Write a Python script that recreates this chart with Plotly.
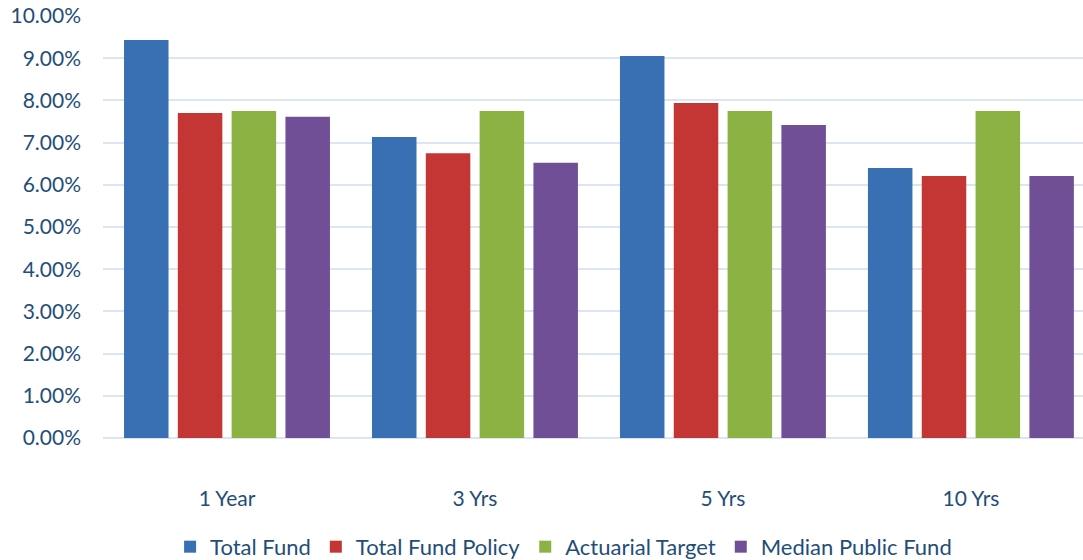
import plotly.graph_objects as go

categories = ["1 Year", "3 Yrs", "5 Yrs", "10 Yrs"]
total_fund = [9.43, 7.13, 9.05, 6.40]
total_fund_policy = [7.70, 6.75, 7.94, 6.21]
actuarial_target = [7.75, 7.75, 7.75, 7.75]
median_public_fund = [7.61, 6.52, 7.42, 6.21]
y_ticks = [0, 1, 2, 3, 4, 5, 6, 7, 8, 9, 10]

series = [
    ("Total Fund", total_fund, "#3970B4"),
    ("Total Fund Policy", total_fund_policy, "#C33634"),
    ("Actuarial Target", actuarial_target, "#8DB244"),
    ("Median Public Fund", median_public_fund, "#704F97"),
]

text_color = "#1F4E79"
fig = go.Figure()
for name, vals, col in series:
    fig.add_trace(go.Bar(x=categories, y=vals, name=name, marker=dict(color=col, line=dict(width=0))))

fig.update_layout(
    width=1083, height=560,
    margin=dict(l=103, r=0, t=16, b=122, autoexpand=False),
    paper_bgcolor="white", plot_bgcolor="white",
    barmode="group", bargap=0.132, bargroupgap=0.173,
    font=dict(family="Lato, Carlito, sans-serif", color=text_color, size=20),
    legend=dict(orientation="h", x=0.47, xanchor="center", y=-0.258, yanchor="middle",
                font=dict(size=22, color=text_color), itemwidth=30, traceorder="normal"),
    showlegend=True,
)
fig.update_xaxes(range=[-0.5, 3.452], showgrid=False, showline=False, ticks="",
                 ticklabelstandoff=46, tickfont=dict(size=21, color=text_color))
fig.update_yaxes(range=[0, 10], tickvals=y_ticks, ticktext=[f"{v:.2f}%" for v in y_ticks],
                 showgrid=True, gridcolor="#DCE6F2", gridwidth=2, zeroline=True,
                 zerolinecolor="#DCE6F2", zerolinewidth=2, ticklabelstandoff=21,
                 tickfont=dict(size=21, color=text_color))

fig.write_html("out.html")
